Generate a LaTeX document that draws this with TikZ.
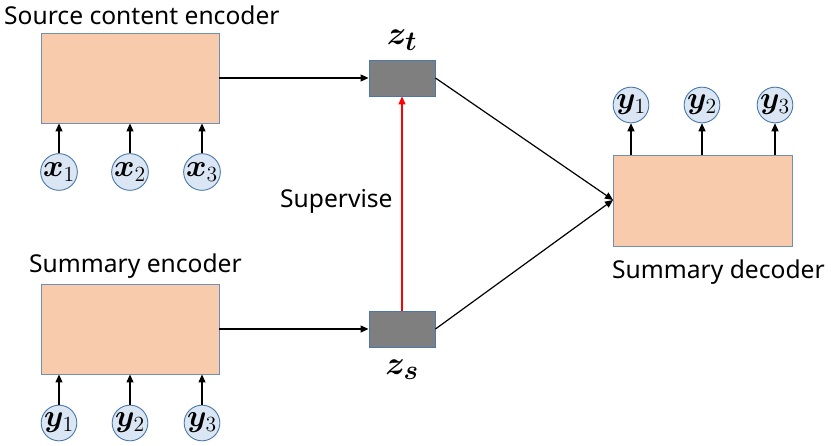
\documentclass[tikz,border=0pt]{standalone}
\usepackage{fontspec}
\setmainfont{Noto Sans}
\usepackage{bm}
\usetikzlibrary{arrows.meta}
\definecolor{boxfill}{HTML}{F8CBAD}
\definecolor{boxline}{HTML}{6F8FB5}
\definecolor{circfill}{HTML}{DAE6F3}
\definecolor{circline}{HTML}{4A78A8}
\definecolor{zfill}{HTML}{7F7F7F}
\newcommand{\tokm}[1]{\scalebox{1.5}{$#1$}}
\newcommand{\zm}[1]{\scalebox{1.32}{$#1$}}
\begin{document}
\begin{tikzpicture}[x=1pt,y=-1pt,
  encbox/.style={draw=boxline,fill=boxfill,line width=0.9pt,minimum width=178pt,minimum height=90pt,inner sep=0pt},
  decbox/.style={draw=boxline,fill=boxfill,line width=0.9pt,minimum width=179pt,minimum height=91pt,inner sep=0pt},
  zbox/.style={draw=circline,fill=zfill,line width=0.9pt,minimum width=66pt,minimum height=36pt,inner sep=0pt},
  tok/.style={circle,draw=circline,fill=circfill,line width=0.9pt,minimum size=35pt,inner sep=0pt,font=\fontsize{20.74}{24}\selectfont},
  title/.style={font=\fontsize{24.6}{28}\selectfont,inner sep=0pt},
  zlab/.style={font=\fontsize{24.88}{28}\selectfont,inner sep=0pt},
  arr/.style={-{Triangle[length=8pt,width=7pt]},line width=1.2pt,black},
]
\useasboundingbox (0,0) rectangle (831,446);
% blocks
\node[encbox] (senc) at (130,78) {};
\node[encbox] (menc) at (130,329) {};
\node[decbox] (dec) at (702.5,200.5) {};
\node[zbox] (zt) at (402,78) {};
\node[zbox] (zs) at (402,329) {};
% titles
\node[title,anchor=base west] (t1) at (4,25) {Source content encoder};
\node[title,anchor=base west] (t2) at (29,273) {Summary encoder};
\node[title,anchor=base west] (t3) at (612,279) {Summary decoder};
\node[title,anchor=base west] (t4) at (280,208) {Supervise};
\node[zlab] (lzt) at (402,40) {\zm{\bm{z}_{\bm{t}}}};
\node[zlab] (lzs) at (402,370) {\zm{\bm{z}_{\bm{s}}}};
% tokens
\node[tok] (x1) at (59,172) {\tokm{\bm{x}_1}};
\node[tok] (x2) at (130,172) {\tokm{\bm{x}_2}};
\node[tok] (x3) at (202,172) {\tokm{\bm{x}_3}};
\node[tok] (sy1) at (59,423) {\tokm{\bm{y}_1}};
\node[tok] (sy2) at (130,423) {\tokm{\bm{y}_2}};
\node[tok] (sy3) at (202,423) {\tokm{\bm{y}_3}};
\node[tok] (dy1) at (631,105) {\tokm{\bm{y}_1}};
\node[tok] (dy2) at (702,105) {\tokm{\bm{y}_2}};
\node[tok] (dy3) at (775,105) {\tokm{\bm{y}_3}};
% token arrows
\foreach \c in {x1,x2,x3} \draw[arr] (\c.north) -- (\c.north |- senc.south);
\foreach \c in {sy1,sy2,sy3} \draw[arr] (\c.north) -- (\c.north |- menc.south);
\foreach \c in {dy1,dy2,dy3} \draw[arr] (\c.south |- dec.north) -- (\c.south);
% main arrows
\draw[arr] (senc.east) -- (zt.west);
\draw[arr] (menc.east) -- (zs.west);
\draw[arr,red] (zs.north) -- (zt.south);
\coordinate (din) at (613,200);
\draw[arr] (zt.east) -- (din);
\draw[arr] (zs.east) -- (din);
\end{tikzpicture}
\end{document}
